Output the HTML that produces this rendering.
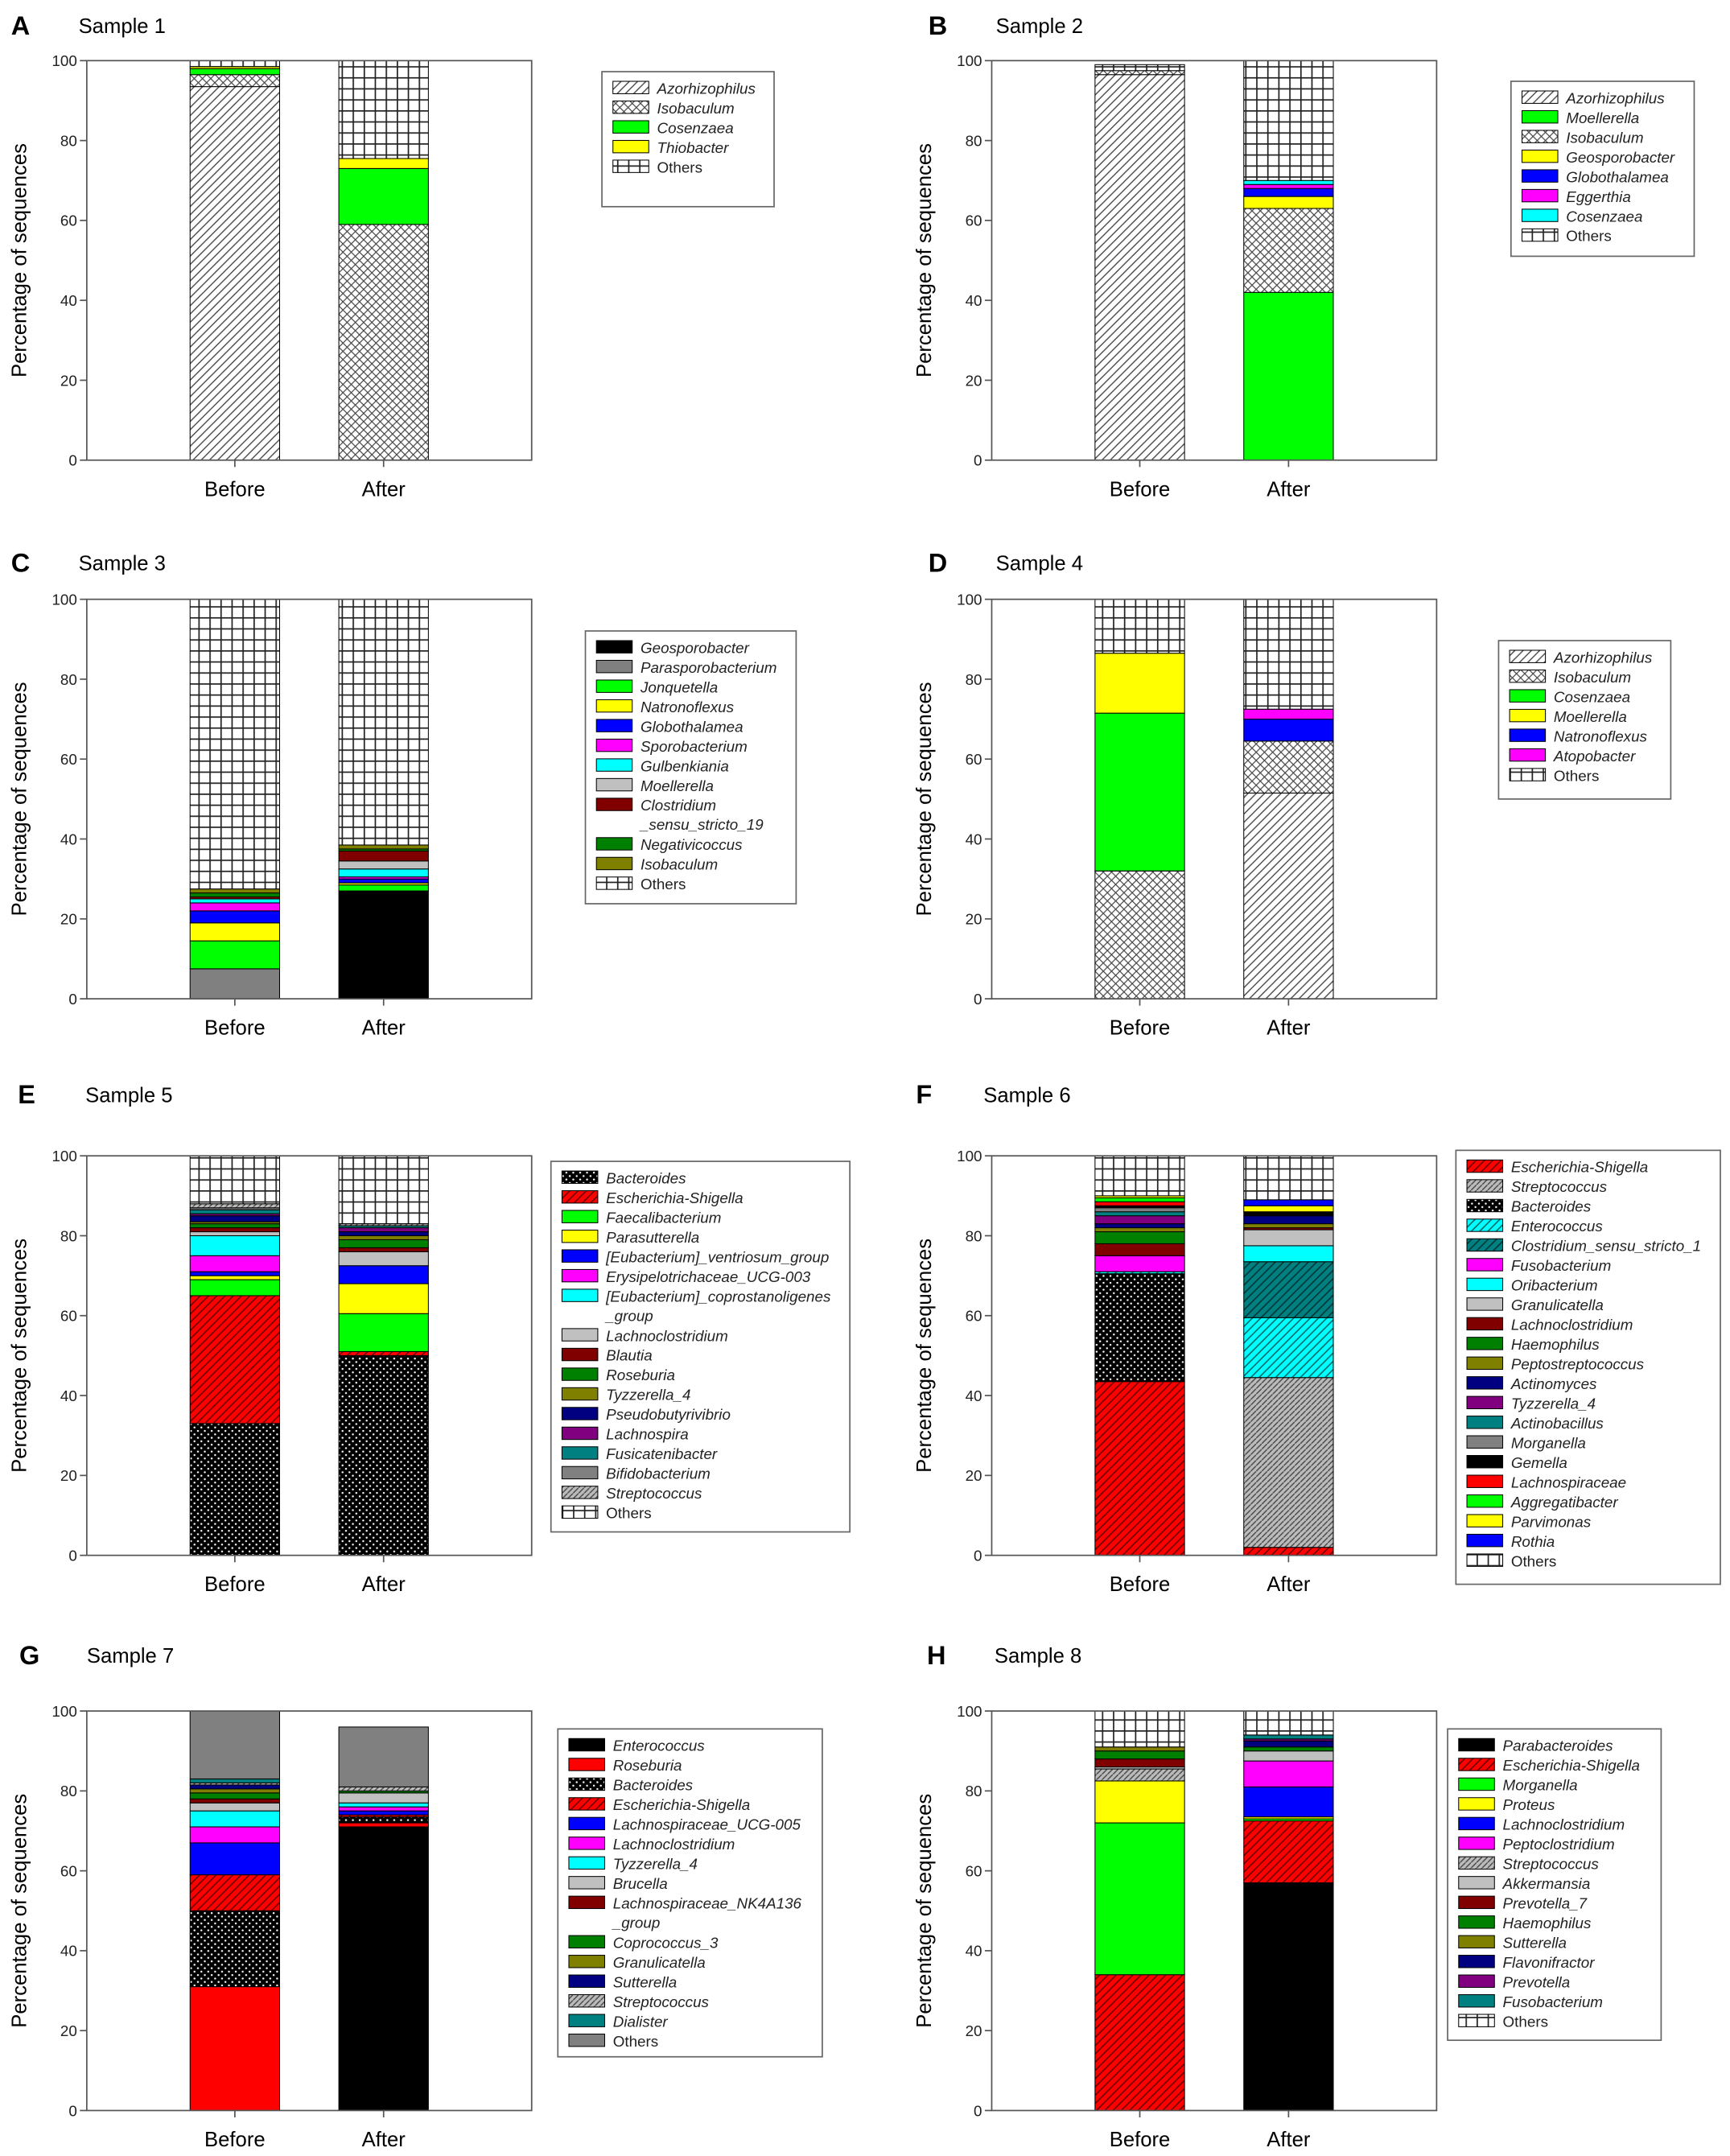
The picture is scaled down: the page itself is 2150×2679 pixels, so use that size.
<!DOCTYPE html>
<html><head><meta charset="utf-8"><style>
html,body{margin:0;padding:0;background:#fff;}
svg{display:block;font-family:"Liberation Sans",Arial,sans-serif;}
</style></head><body>
<svg id="fig" xmlns="http://www.w3.org/2000/svg" width="2150" height="2679" viewBox="0 0 1256 1565">
<defs>
<pattern id="hatch" patternUnits="userSpaceOnUse" width="6" height="6"><rect width="6" height="6" fill="#fff"/><path d="M-1,7 L7,-1 M-1,1 L1,-1 M5,7 L7,5" stroke="#444" stroke-width="0.8"/></pattern>
<pattern id="cross" patternUnits="userSpaceOnUse" width="6" height="6"><rect width="6" height="6" fill="#fff"/><path d="M-1,7 L7,-1 M-1,-1 L7,7" stroke="#444" stroke-width="0.7"/></pattern>
<pattern id="grid" patternUnits="userSpaceOnUse" width="8" height="8"><rect width="8" height="8" fill="#fff"/><path d="M0,0.5 H8 M0.5,0 V8" stroke="#222" stroke-width="1"/></pattern>
<pattern id="dots" patternUnits="userSpaceOnUse" width="5" height="5"><rect width="5" height="5" fill="#000"/><circle cx="1.2" cy="1.2" r="0.7" fill="#fff"/><circle cx="3.7" cy="3.7" r="0.7" fill="#fff"/></pattern>
<pattern id="hred" patternUnits="userSpaceOnUse" width="6" height="6"><rect width="6" height="6" fill="#ff0000"/><path d="M-1,7 L7,-1 M-1,1 L1,-1 M5,7 L7,5" stroke="#600" stroke-width="0.9"/></pattern>
<pattern id="hgrey" patternUnits="userSpaceOnUse" width="4" height="4"><rect width="4" height="4" fill="#bbb"/><path d="M-1,5 L5,-1" stroke="#444" stroke-width="0.8"/></pattern>
<pattern id="hcyan" patternUnits="userSpaceOnUse" width="6" height="6"><rect width="6" height="6" fill="#00ffff"/><path d="M-1,7 L7,-1 M-1,1 L1,-1 M5,7 L7,5" stroke="#066" stroke-width="0.9"/></pattern>
<pattern id="hteal" patternUnits="userSpaceOnUse" width="6" height="6"><rect width="6" height="6" fill="#008080"/><path d="M-1,7 L7,-1 M-1,1 L1,-1 M5,7 L7,5" stroke="#033" stroke-width="0.9"/></pattern>
</defs>
</svg>
<script>
// ---- data ----
const namesA=["Azorhizophilus","Isobaculum","Cosenzaea","Thiobacter","Others"];
const fillsA=["url(#hatch)","url(#cross)","#00ff00","#ffff00","url(#grid)"];
const beforeA=[93.5,3,1.5,0.5,1.5];
const afterA=[0,59,14,2.5,24.5];

const namesB=["Azorhizophilus","Moellerella","Isobaculum","Geosporobacter","Globothalamea","Eggerthia","Cosenzaea","Others"];
const fillsB=["url(#hatch)","#00ff00","url(#cross)","#ffff00","#0000ff","#ff00ff","#00ffff","url(#grid)"];
const beforeB=[96.5,0,1,0,0,0,0,1.5];
const afterB=[0,42,21,3,2,1,1,30];

const namesC=["Geosporobacter","Parasporobacterium","Jonquetella","Natronoflexus","Globothalamea","Sporobacterium","Gulbenkiania","Moellerella","Clostridium\n_sensu_stricto_19","Negativicoccus","Isobaculum","Others"];
const fillsC=["#000000","#808080","#00ff00","#ffff00","#0000ff","#ff00ff","#00ffff","#c0c0c0","#800000","#008000","#808000","url(#grid)"];
const beforeC=[0,7.5,7,4.5,3,2,1,0,0.5,1,1,72.5];
const afterC=[27,0,1.5,0.5,1,0.5,2,2,2.5,0.5,1,61.5];

const namesD=["Azorhizophilus","Isobaculum","Cosenzaea","Moellerella","Natronoflexus","Atopobacter","Others"];
const fillsD=["url(#hatch)","url(#cross)","#00ff00","#ffff00","#0000ff","#ff00ff","url(#grid)"];
const beforeD=[0,32,39.5,15,0,0,13.5];
const afterD=[51.5,13,0,0,5.5,2.5,27.5];

const namesE=["Bacteroides","Escherichia-Shigella","Faecalibacterium","Parasutterella","[Eubacterium]_ventriosum_group","Erysipelotrichaceae_UCG-003","[Eubacterium]_coprostanoligenes\n_group","Lachnoclostridium","Blautia","Roseburia","Tyzzerella_4","Pseudobutyrivibrio","Lachnospira","Fusicatenibacter","Bifidobacterium","Streptococcus","Others"];
const fillsE=["url(#dots)","url(#hred)","#00ff00","#ffff00","#0000ff","#ff00ff","#00ffff","#c0c0c0","#800000","#008000","#808000","#000080","#800080","#008080","#808080","url(#hgrey)","url(#grid)"];
const beforeE=[33,32,4,1,1,4,5,1,1,1,0.5,1.5,0.5,1,0.5,1,12];
const afterE=[50,1,9.5,7.5,4.5,0,0,3.5,1,2,1,1,1,0.5,0,0.5,17];

const namesF=["Escherichia-Shigella","Streptococcus","Bacteroides","Enterococcus","Clostridium_sensu_stricto_1","Fusobacterium","Oribacterium","Granulicatella","Lachnoclostridium","Haemophilus","Peptostreptococcus","Actinomyces","Tyzzerella_4","Actinobacillus","Morganella","Gemella","Lachnospiraceae","Aggregatibacter","Parvimonas","Rothia","Others"];
const fillsF=["url(#hred)","url(#hgrey)","url(#dots)","url(#hcyan)","url(#hteal)","#ff00ff","#00ffff","#c0c0c0","#800000","#008000","#808000","#000080","#800080","#008080","#808080","#000000","#ff0000","#00ff00","#ffff00","#0000ff","url(#grid)"];
const beforeF=[43.5,0,27,0.5,0,4,0,0,3,3,1,1,2,1,1,0.5,1,1,0.5,0,10];
const afterF=[2,42.5,0,15,14,0,4,4,0.5,0,1,2,0,0,0,1,0,0,1.5,1.5,11];

const namesG=["Enterococcus","Roseburia","Bacteroides","Escherichia-Shigella","Lachnospiraceae_UCG-005","Lachnoclostridium","Tyzzerella_4","Brucella","Lachnospiraceae_NK4A136\n_group","Coprococcus_3","Granulicatella","Sutterella","Streptococcus","Dialister","Others"];
const fillsG=["#000000","#ff0000","url(#dots)","url(#hred)","#0000ff","#ff00ff","#00ffff","#c0c0c0","#800000","#008000","#808000","#000080","url(#hgrey)","#008080","#808080"];
const beforeG=[0,31,19,9,8,4,4,2,1,1.5,1,1,0.5,1,17];
const afterG=[71,1,1.5,0.5,1,1,1,2.5,0,0.5,0,0,1,0,15];

const namesH=["Parabacteroides","Escherichia-Shigella","Morganella","Proteus","Lachnoclostridium","Peptoclostridium","Streptococcus","Akkermansia","Prevotella_7","Haemophilus","Sutterella","Flavonifractor","Prevotella","Fusobacterium","Others"];
const fillsH=["#000000","url(#hred)","#00ff00","#ffff00","#0000ff","#ff00ff","url(#hgrey)","#c0c0c0","#800000","#008000","#808000","#000080","#800080","#008080","url(#grid)"];
const beforeH=[0,34,38,10.5,0,0,3,0.5,2,2,1,0,0,0,9];
const afterH=[57,15.5,0.5,0.5,7.5,6.5,0,2.5,0,1,0,1.5,0.5,1,6];

const categories=["Before","After"];
const yTicks=[0,20,40,60,80,100];

// ---- layout ----
const panels=[
 {id:"a",letter:"A",title:"Sample 1",ox:63,oy:44,lt:25,tx:57,names:namesA,fills:fillsA,before:beforeA,after:afterA,lg:[437,52,125,98]},
 {id:"b",letter:"B",title:"Sample 2",ox:720,oy:44,lt:25,tx:723,names:namesB,fills:fillsB,before:beforeB,after:afterB,lg:[1097,59,133,127]},
 {id:"c",letter:"C",title:"Sample 3",ox:63,oy:435,lt:415,tx:57,names:namesC,fills:fillsC,before:beforeC,after:afterC,lg:[425,458,153,198]},
 {id:"d",letter:"D",title:"Sample 4",ox:720,oy:435,lt:415,tx:723,names:namesD,fills:fillsD,before:beforeD,after:afterD,lg:[1088,465,125,115]},
 {id:"e",letter:"E",title:"Sample 5",ox:63,oy:839,lt:801,tx:62,names:namesE,fills:fillsE,before:beforeE,after:afterE,lg:[400,843,217,269]},
 {id:"f",letter:"F",title:"Sample 6",ox:720,oy:839,lt:801,tx:714,names:namesF,fills:fillsF,before:beforeF,after:afterF,lg:[1057,835,192,315]},
 {id:"g",letter:"G",title:"Sample 7",ox:63,oy:1242,lt:1208,tx:63,names:namesG,fills:fillsG,before:beforeG,after:afterG,lg:[405,1255,192,238]},
 {id:"h",letter:"H",title:"Sample 8",ox:720,oy:1242,lt:1208,tx:722,names:namesH,fills:fillsH,before:beforeH,after:afterH,lg:[1051,1255,155,226]}
];
const NS="http://www.w3.org/2000/svg";
const svg=document.getElementById("fig");
function mk(tag,attrs,parent,text){const e=document.createElementNS(NS,tag);for(const k in attrs)e.setAttribute(k,attrs[k]);if(text!==undefined)e.textContent=text;(parent||svg).appendChild(e);return e;}
const W=323,H=290,BW=65;
panels.forEach(p=>{
 const g=mk("g",{});
 
 
 const yS=v=>p.oy+H-v/100*H;
 const xS=i=>p.ox+75+i*108;
 const L=mk("text",{x:p.tx-49,y:p.lt,"font-size":19,"font-weight":"bold"},g,p.letter);
 
 
 const T=mk("text",{x:p.tx,y:p.lt-1,"font-size":15},g,p.title);
 
 
 // bars
 [p.before,p.after].forEach((vals,ci)=>{
  let cum=0;
  vals.forEach((v,si)=>{
   if(v<=0)return;
   const r=mk("rect",{x:xS(ci),y:yS(cum+v),width:BW,height:yS(cum)-yS(cum+v),fill:p.fills[si],stroke:"#000","stroke-width":0.6},g);
   
   
   cum+=v;
  });
 });
 // axes box
 const box=mk("rect",{x:p.ox,y:p.oy,width:W,height:H,fill:"none",stroke:"#555","stroke-width":1},g);
 
 
 yTicks.forEach(t=>{
  mk("line",{x1:p.ox-5,x2:p.ox,y1:yS(t),y2:yS(t),stroke:"#555"},g);
  const tl=mk("text",{x:p.ox-7,y:yS(t)+4,"font-size":11,"text-anchor":"end",fill:"#222"},g,String(t));
  
  
 });
 categories.forEach((c,i)=>{
  mk("line",{x1:xS(i)+BW/2,x2:xS(i)+BW/2,y1:p.oy+H,y2:p.oy+H+5,stroke:"#555"},g);
  const cl=mk("text",{x:xS(i)+BW/2,y:p.oy+H+26,"font-size":15,"text-anchor":"middle"},g,c);
  
  
 });
 const yt=mk("text",{x:0,y:0,"font-size":15,"text-anchor":"middle",transform:`translate(${p.ox-44},${p.oy+H/2}) rotate(-90)`},g,"Percentage of sequences");
 
 
 // legend
 const [lx,ly,lw,lh]=p.lg;
 const lg=mk("g",{},g);
 
 
 mk("rect",{x:lx,y:ly,width:lw,height:lh,fill:"#fff",stroke:"#666","stroke-width":1},lg);
 let yy=ly+12;
 p.names.forEach((n,i)=>{
  const e=mk("g",{},lg);
  
  
  mk("rect",{x:lx+8,y:yy-5,width:26,height:9,fill:p.fills[i],stroke:"#000","stroke-width":0.6},e);
  const lines=n.split("\n");
  lines.forEach((ln,k)=>{
   mk("text",{x:lx+40,y:yy+4+k*14,"font-size":11,"font-style":n==="Others"?"normal":"italic",fill:"#222"},e,ln);
  });
  yy+=14.3*lines.length;
 });
});
</script>
</body></html>
